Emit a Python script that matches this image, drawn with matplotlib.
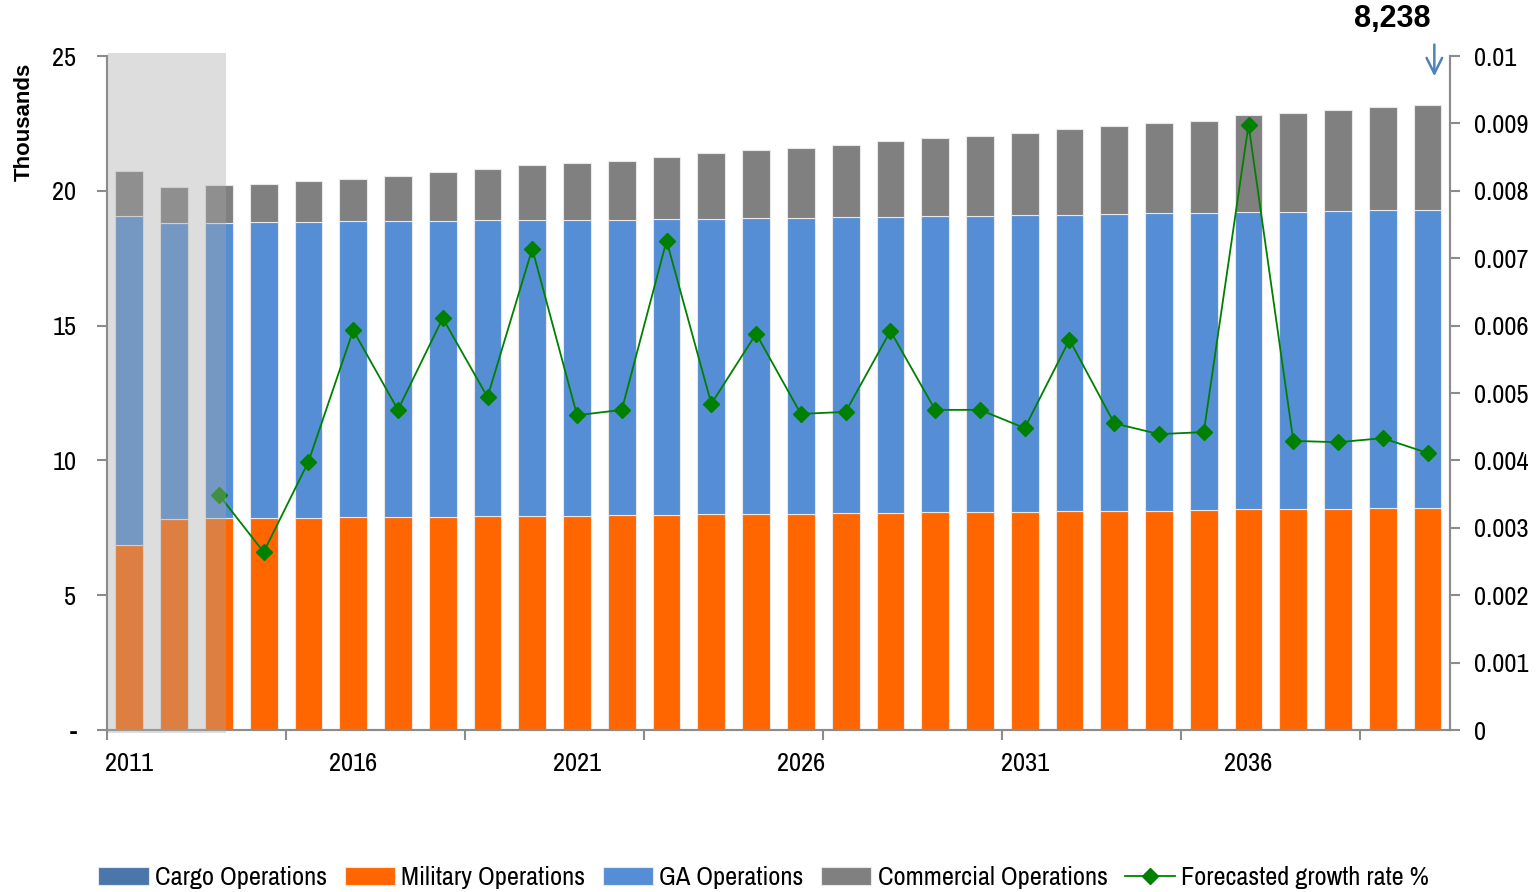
import matplotlib.pyplot as plt
from matplotlib.patches import Rectangle
import numpy as np
from matplotlib import font_manager

fams = {f.name for f in font_manager.fontManager.ttflist}
prefs = ['Liberation Sans Narrow', 'Arial Narrow', 'Archivo Narrow', 'PT Sans Narrow',
         'Roboto Condensed', 'Arimo', 'Liberation Sans']
base = next(p for p in prefs if p in fams)
plt.rcParams['font.family'] = [base, 'DejaVu Sans']
bold_fam = ['Liberation Sans', 'DejaVu Sans']

years = list(range(2011, 2041))
cargo = [0.0] * 30
military = [6.85, 7.84, 7.85, 7.87, 7.88, 7.89, 7.90, 7.91, 7.93, 7.94,
            7.95, 7.97, 7.98, 8.00, 8.01, 8.02, 8.04, 8.05, 8.07, 8.08,
            8.10, 8.11, 8.13, 8.14, 8.16, 8.18, 8.19, 8.21, 8.22, 8.238]
ga = [12.20, 10.96, 10.95, 10.98, 10.98, 10.98, 10.98, 10.98, 10.97, 10.97,
      10.97, 10.96, 10.97, 10.96, 10.97, 10.98, 10.98, 10.99, 10.99, 11.00,
      11.00, 11.01, 11.01, 11.02, 11.02, 11.02, 11.03, 11.04, 11.06, 11.06]
commercial = [1.70, 1.35, 1.40, 1.40, 1.49, 1.58, 1.67, 1.81, 1.90, 2.04,
              2.13, 2.17, 2.30, 2.44, 2.52, 2.60, 2.68, 2.81, 2.89, 2.97,
              3.05, 3.18, 3.26, 3.34, 3.42, 3.60, 3.68, 3.75, 3.82, 3.90]
growth = [np.nan, np.nan, 0.00349, 0.00264, 0.00398, 0.00593, 0.00475, 0.00611, 0.00494, 0.00714,
          0.00467, 0.00475, 0.00726, 0.00484, 0.00588, 0.00469, 0.00472, 0.00592, 0.00475, 0.00475,
          0.00448, 0.00579, 0.00455, 0.00439, 0.00442, 0.00898, 0.00429, 0.00427, 0.00433, 0.00411]

c_cargo = '#4a76aa'
c_mil = '#ff6600'
c_ga = '#558ed5'
c_com = '#808080'
c_line = '#008000'
spine_c = '#8c8c8c'

fig = plt.figure(figsize=(15.37, 8.92), dpi=100)
ax = fig.add_axes([0.0696, 0.1816, 0.8738, 0.7556])
ax2 = ax.twinx()

x = np.arange(len(years))
w = 0.62
ekw = dict(edgecolor='#e8e8e8', linewidth=0.8)
b1 = ax.bar(x, cargo, w, color=c_cargo, label='Cargo Operations', **ekw)
b2 = ax.bar(x, military, w, bottom=cargo, color=c_mil, label='Military Operations', **ekw)
bot = np.array(cargo) + np.array(military)
b3 = ax.bar(x, ga, w, bottom=bot, color=c_ga, label='GA Operations', **ekw)
bot = bot + np.array(ga)
b4 = ax.bar(x, commercial, w, bottom=bot, color=c_com, label='Commercial Operations', **ekw)

ax.set_xlim(-0.5, len(years) - 0.5)
ax.set_ylim(0, 25)
ax.set_yticks([0, 5, 10, 15, 20, 25])
ax.set_yticklabels(['-', '5', '10', '15', '20', '25'])
ax.set_xticks(np.arange(-0.5, len(years), 4))
ax.set_xticklabels([])
ax.set_xticks(x[::5], minor=True)
ax.set_xticklabels([str(y) for y in years[::5]], minor=True)
ax.tick_params(axis='x', which='minor', length=0, pad=16, labelsize=19)
ax.tick_params(axis='x', which='major', length=7, color=spine_c, width=1.5)
ax.tick_params(axis='y', length=7, color=spine_c, width=1.5, labelsize=19, pad=15)

ln, = ax2.plot(x, growth, color=c_line, marker='D', markersize=8, linewidth=1.3,
               label='Forecasted growth rate %', zorder=5)
ax2.set_ylim(0, 0.01)
ax2.set_yticks(np.arange(0, 0.0101, 0.001))
ax2.set_yticklabels(['0', '0.001', '0.002', '0.003', '0.004', '0.005', '0.006',
                     '0.007', '0.008', '0.009', '0.01'])
ax2.tick_params(axis='y', length=7, color=spine_c, width=1.5, labelsize=19, pad=10)

for a in (ax, ax2):
    a.spines['top'].set_visible(False)
    for s in ('left', 'right', 'bottom'):
        a.spines[s].set_color(spine_c)
        a.spines[s].set_linewidth(1.5)

# shaded historical period
ax2.add_patch(Rectangle((-0.48, -0.005), 2.64, 1.01, transform=ax2.get_xaxis_transform(),
                        facecolor='#a9a9a9', alpha=0.39, edgecolor='none', zorder=10,
                        clip_on=False))

fig.text(0.016, 0.863, 'Thousands', rotation=90, fontsize=16, fontweight='bold',
         family=bold_fam, ha='center', va='center')

ax2.annotate('', xy=(29.15, 0.0097), xytext=(29.15, 0.01017),
             arrowprops=dict(arrowstyle='->', color='#4f81bd', lw=1.8,
                             mutation_scale=28, shrinkA=0, shrinkB=0),
             annotation_clip=False)
fig.text(0.906, 0.979, '8,238', fontsize=22, fontweight='bold', family=bold_fam,
         ha='center', va='center')

fig.legend([b1, b2, b3, b4, ln],
           ['Cargo Operations', 'Military Operations', 'GA Operations',
            'Commercial Operations', 'Forecasted growth rate %'],
           loc='center', bbox_to_anchor=(0.497, 0.016), ncol=5, frameon=False,
           fontsize=19, handlelength=1.9, handletextpad=0.25, columnspacing=0.65)

fig.savefig('out.png', dpi=100)
